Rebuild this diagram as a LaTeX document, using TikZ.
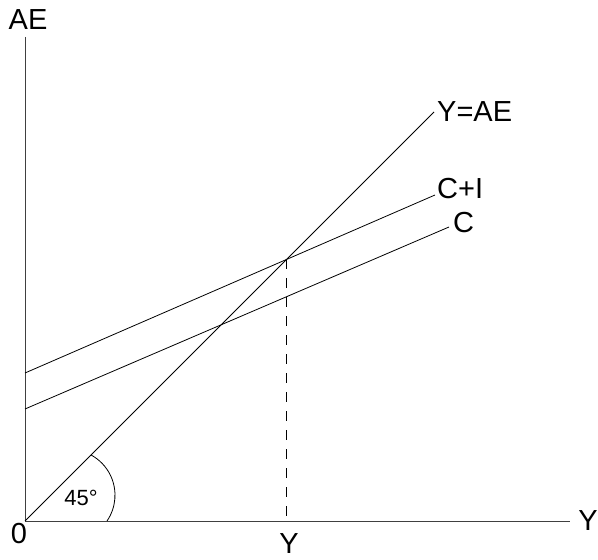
\documentclass[tikz,border=0pt]{standalone}
\usepackage{fontspec}
\setmainfont{Liberation Sans}
\begin{document}
\begin{tikzpicture}[x=1pt,y=1pt,
  axis/.style={line width=0.9pt,draw=black!75},
  curve/.style={line width=0.8pt,draw=black},
  lbl/.style={inner sep=0pt,font=\fontsize{29}{29}\selectfont},
  smalllbl/.style={inner sep=0pt,font=\fontsize{22}{22}\selectfont},
  guide/.style={line width=0.8pt,draw=black,dash pattern=on 10pt off 9pt}]
\useasboundingbox (0,0) rectangle (598,560);
\coordinate (O) at (25,39);
\coordinate (ytop) at (25,523);
\coordinate (xend) at (570,39);
\coordinate (yae) at (434,448);
\coordinate (ci0) at (25,187);
\coordinate (ci1) at (435,365);
\coordinate (c0) at (25,151);
\coordinate (c1) at (449,333);
\coordinate (arcstart) at (107,39);
\draw[axis] (ytop) -- (O) -- (xend);
\draw[curve] (O) -- (yae);
\draw[curve] (ci0) -- (ci1);
\draw[curve] (c0) -- (c1);
\coordinate (E) at (intersection of O--yae and ci0--ci1);
\coordinate (Ebase) at (E |- O);
\draw[guide] (E) -- (Ebase);
\draw[curve] (arcstart) arc[start angle=-34.4,end angle=61.6,radius=45.7];
\node[lbl] (lae) at (28,540) {AE};
\node[lbl] (lyr) at (588,39) {Y};
\node[lbl] (lo) at (19,26) {0};
\node[lbl] (lyb) at (289,16) {Y};
\node[lbl,anchor=west] (lyae) at (437,448) {Y=AE};
\node[lbl,anchor=west] (lci) at (437,371) {C+I};
\node[lbl,anchor=west] (lc) at (453,337) {C};
\node[smalllbl] (l45) at (81,62) {45°};
\end{tikzpicture}
\end{document}
